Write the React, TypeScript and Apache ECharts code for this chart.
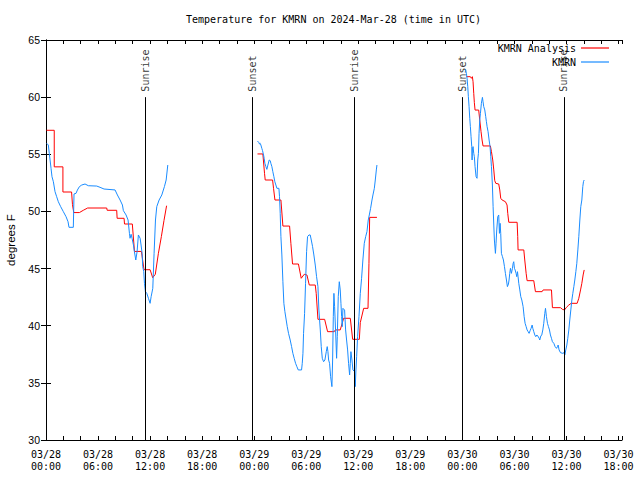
import { useEffect, useRef } from 'react';
import * as echarts from 'echarts';

const MONO = '"DejaVu Sans Mono", "Liberation Mono", monospace';
const SANS = '"Liberation Sans", Arial, sans-serif';

// hours since 2024-03-28 00:00 UTC, temperature (°F)
const analysisDay1: [number, number][] = [
  [0.05, 57.1], [0.95, 57.1], [0.95, 53.9], [1.95, 53.9], [1.95, 51.7], [2.95, 51.7], [3.05, 50.6], [3.2, 49.9],
  [3.85, 49.9], [4.3, 50.1], [4.8, 50.3], [7.0, 50.3], [7.05, 50.1], [8.15, 50.1], [8.2, 49.4], [9.0, 49.4],
  [9.05, 48.9], [9.95, 48.9], [10.2, 46.5], [11.0, 46.5], [11.3, 44.9], [12.0, 44.9], [12.3, 44.2], [12.6, 44.5],
  [12.95, 46.3], [13.3, 47.8], [13.6, 49.2], [13.9, 50.5],
];
const analysisDay2: [number, number][] = [
  [24.38, 55.03], [25.0, 55.03], [25.19, 53.33], [25.27, 52.75], [26.12, 52.75], [26.23, 52.02], [26.39, 51.0],
  [27.08, 51.0], [27.31, 48.72], [28.08, 48.72], [28.23, 47.21], [28.42, 45.4], [29.1, 45.4], [29.42, 44.15],
  [29.77, 44.5], [30.08, 44.44], [30.35, 43.56], [31.04, 43.56], [31.15, 42.83], [31.35, 40.56], [32.12, 40.56],
  [32.46, 39.48], [33.23, 39.48], [33.35, 39.63], [33.92, 39.63], [34.31, 40.65], [35.08, 40.65], [35.35, 38.81],
  [36.12, 38.81], [36.23, 40.27], [36.62, 41.52], [37.12, 41.52], [37.23, 45.46], [37.31, 49.48], [38.15, 49.48],
];
const analysisDay3: [number, number][] = [
  [48.46, 61.79], [48.92, 61.79], [49.04, 61.65], [49.15, 61.79], [49.23, 61.35], [49.31, 60.33], [49.38, 59.52],
  [49.46, 58.87], [49.88, 58.87], [50.0, 58.0], [50.15, 56.98], [50.27, 56.25], [50.38, 55.73], [51.23, 55.73],
  [51.35, 55.23], [51.5, 54.5], [51.62, 53.63], [51.73, 52.69], [51.85, 52.46], [52.19, 52.4], [52.31, 51.88],
  [52.42, 51.15], [52.58, 51.0], [52.96, 50.85], [53.15, 50.56], [53.23, 49.83], [53.35, 49.05], [54.31, 49.05],
  [54.38, 47.79], [54.42, 46.63], [55.08, 46.63], [55.19, 45.75], [55.35, 44.58], [55.46, 43.94], [56.23, 43.94],
  [56.42, 42.98], [57.19, 42.98], [57.31, 43.13], [58.27, 43.13], [58.38, 41.58], [59.31, 41.58], [59.54, 41.43],
  [59.77, 41.38], [60.0, 41.61], [60.27, 41.81], [60.54, 41.96], [61.23, 41.96], [61.42, 42.4], [61.62, 43.13],
  [61.77, 43.71], [61.92, 44.44], [62.04, 44.88],
];

const obsDay1: [number, number][] = [
  [0.08, 55.96], [0.27, 55.81], [0.38, 55.08], [0.58, 53.77], [0.69, 53.04], [0.85, 52.6], [1.04, 51.73],
  [1.23, 51.29], [1.42, 50.85], [1.69, 50.42], [2.0, 49.98], [2.31, 49.54], [2.54, 49.1], [2.65, 48.61],
  [3.15, 48.61], [3.23, 51.53], [3.46, 51.58], [3.62, 51.87], [3.85, 52.17], [4.12, 52.31], [4.5, 52.4],
  [4.88, 52.25], [5.85, 52.22], [6.23, 52.11], [6.69, 51.96], [7.96, 51.88], [8.23, 51.44], [8.54, 51.0],
  [8.81, 50.56], [8.92, 50.07], [9.23, 49.69], [9.46, 49.25], [9.62, 48.08], [9.69, 47.65], [9.81, 48.0],
  [9.92, 47.65], [10.08, 47.06], [10.19, 46.48], [10.35, 45.75], [10.5, 46.48], [10.65, 47.94], [10.85, 47.65],
  [10.96, 47.06], [11.08, 46.33], [11.15, 45.17], [11.27, 44.73], [11.35, 43.71], [11.46, 42.98], [11.62, 42.83],
  [11.81, 42.4], [12.0, 41.96], [12.12, 42.54], [12.31, 43.27], [12.46, 46.33], [12.62, 49.25], [12.77, 50.42],
  [13.04, 51.0], [13.35, 51.44], [13.65, 52.17], [13.85, 52.75], [14.04, 54.06],
];
const obsDay2: [number, number][] = [
  [24.38, 56.16], [24.54, 56.02], [24.61, 55.9], [24.69, 55.96], [24.77, 55.81], [24.88, 55.52], [24.96, 55.32],
  [25.08, 54.94], [25.15, 54.65], [25.23, 54.21], [25.35, 53.92], [25.46, 53.68], [25.58, 54.06], [25.73, 54.5],
  [25.85, 54.44], [25.92, 54.21], [26.04, 53.92], [26.15, 53.48], [26.27, 53.04], [26.38, 52.6], [26.5, 52.31],
  [26.62, 52.02], [26.85, 52.02], [26.92, 51.29], [27.0, 49.83], [27.08, 47.79], [27.19, 46.19], [27.31, 43.85],
  [27.42, 41.96], [27.54, 41.23], [27.69, 40.5], [27.81, 39.92], [27.96, 39.33], [28.15, 38.75], [28.31, 38.17],
  [28.46, 37.58], [28.61, 37.15], [28.77, 36.71], [28.92, 36.42], [29.08, 36.13], [29.46, 36.13], [29.54, 36.71],
  [29.62, 37.58], [29.69, 39.33], [29.81, 41.08], [29.92, 43.71], [30.04, 46.48], [30.15, 47.79], [30.31, 47.94],
  [30.46, 47.94], [30.58, 47.5], [30.73, 46.92], [30.88, 46.19], [31.04, 45.31], [31.19, 44.29], [31.35, 43.42],
  [31.46, 41.37], [31.62, 39.63], [31.73, 38.17], [31.85, 37.15], [32.0, 36.85], [32.15, 37.0], [32.31, 37.73],
  [32.42, 38.17], [32.5, 37.73], [32.58, 37.0], [32.69, 36.71], [32.81, 35.54], [32.96, 34.67], [33.04, 37.0],
  [33.12, 40.79], [33.19, 42.83], [33.27, 41.67], [33.38, 39.63], [33.5, 37.15], [33.58, 39.04], [33.69, 42.54],
  [33.81, 43.85], [33.92, 43.13], [34.0, 41.96], [34.08, 40.79], [34.15, 39.92], [34.23, 41.52], [34.42, 41.37],
  [34.54, 39.63], [34.65, 38.75], [34.77, 37.88], [34.88, 36.71], [35.0, 35.69], [35.08, 36.71], [35.15, 37.73],
  [35.27, 37.0], [35.38, 36.13], [35.58, 35.98], [35.65, 34.67], [35.73, 36.13], [35.81, 37.29], [35.92, 39.04],
  [36.08, 40.79], [36.23, 42.83], [36.38, 44.15], [36.53, 45.75], [36.69, 47.21], [36.85, 47.79], [37.0, 48.23],
  [37.15, 49.25], [37.27, 49.69], [37.42, 50.27], [37.58, 51.0], [37.69, 51.44], [37.85, 52.02], [37.96, 52.75],
  [38.08, 53.63], [38.15, 54.06],
];
const obsDay3: [number, number][] = [
  [48.35, 62.43], [48.46, 62.08], [48.54, 61.65], [48.62, 60.92], [48.69, 60.04], [48.77, 59.17], [48.85, 58.15],
  [48.92, 57.42], [49.0, 56.54], [49.08, 55.67], [49.12, 54.5], [49.15, 55.38], [49.23, 55.67], [49.31, 55.08],
  [49.38, 54.79], [49.46, 53.92], [49.58, 53.04], [49.69, 52.9], [49.77, 54.5], [49.85, 55.08], [49.92, 56.83],
  [50.0, 58.0], [50.08, 58.58], [50.19, 59.46], [50.31, 59.98], [50.38, 59.6], [50.46, 59.17], [50.58, 58.88],
  [50.69, 58.29], [50.77, 57.85], [50.85, 57.42], [50.96, 56.98], [51.08, 56.25], [51.19, 55.67], [51.27, 54.79],
  [51.35, 53.92], [51.46, 52.31], [51.54, 50.42], [51.62, 48.81], [51.69, 47.5], [51.81, 46.33], [51.88, 47.21],
  [51.96, 48.38], [52.08, 49.54], [52.19, 49.69], [52.27, 48.08], [52.35, 48.96], [52.42, 48.08], [52.5, 46.33],
  [52.62, 46.04], [52.73, 45.75], [52.85, 45.17], [52.96, 44.58], [53.08, 44.0], [53.19, 43.42], [53.31, 43.65],
  [53.38, 44.0], [53.46, 44.58], [53.54, 45.02], [53.65, 44.58], [53.77, 45.02], [53.85, 45.46], [53.92, 45.6],
  [54.0, 45.02], [54.08, 44.88], [54.19, 44.58], [54.27, 44.29], [54.35, 44.73], [54.42, 44.29], [54.5, 43.71],
  [54.62, 43.13], [54.73, 42.54], [54.85, 42.25], [55.0, 41.67], [55.12, 40.79], [55.23, 40.21], [55.35, 39.92],
  [55.46, 39.63], [55.58, 39.48], [55.69, 39.33], [55.81, 39.57], [55.92, 39.77], [56.04, 40.06], [56.12, 39.77],
  [56.23, 39.48], [56.35, 39.19], [56.46, 39.04], [56.58, 39.19], [56.69, 39.1], [56.85, 38.9], [56.92, 38.75],
  [57.04, 39.1], [57.15, 39.19], [57.27, 39.63], [57.38, 40.21], [57.5, 41.08], [57.58, 41.52], [57.69, 40.79],
  [57.81, 40.21], [57.92, 39.92], [58.04, 39.63], [58.15, 39.19], [58.27, 38.9], [58.38, 38.6], [58.54, 38.46],
  [58.69, 38.17], [58.85, 38.02], [58.96, 38.17], [59.04, 38.31], [59.15, 37.88], [59.31, 37.64], [59.58, 37.58],
  [59.69, 37.64], [59.81, 37.44], [59.92, 37.88], [60.04, 38.31], [60.15, 38.9], [60.27, 39.63], [60.38, 40.5],
  [60.5, 41.38], [60.62, 42.25], [60.73, 42.83], [60.85, 43.42], [60.96, 44.0], [61.08, 44.73], [61.19, 45.46],
  [61.31, 46.63], [61.42, 47.79], [61.54, 49.25], [61.65, 50.42], [61.77, 51.0], [61.88, 52.17], [61.96, 52.6],
  [62.04, 52.75],
];

const sunTimes = [11.46, 23.8, 35.57, 47.96, 59.69];
const sunNames = ['Sunrise', 'Sunset', 'Sunrise', 'Sunset', 'Sunrise'];
const xTickLabels = [
  '03/28\n00:00', '03/28\n06:00', '03/28\n12:00', '03/28\n18:00',
  '03/29\n00:00', '03/29\n06:00', '03/29\n12:00', '03/29\n18:00',
  '03/30\n00:00', '03/30\n06:00', '03/30\n12:00', '03/30\n18:00',
];

const ANALYSIS = 'KMRN Analysis';
const OBS = 'KMRN';
const RED = '#ff0000';
const BLUE = '#1a8cff';

export default function App() {
  const ref = useRef<HTMLDivElement>(null);
  useEffect(() => {
    const chart = echarts.init(ref.current!, null, { renderer: 'svg' });
    const xBase = {
      type: 'value' as const,
      min: 0,
      max: 66.4,
      interval: 2,
      axisLine: { show: true, lineStyle: { color: '#000', width: 1 } },
      axisTick: { show: true, inside: true, length: 4, lineStyle: { color: '#000' } },
      splitLine: { show: false },
    };
    const yBase = {
      type: 'value' as const,
      min: 30,
      max: 65,
      interval: 5,
      axisLine: { show: true, lineStyle: { color: '#000', width: 1 } },
      axisTick: { show: true, inside: true, length: 5, lineStyle: { color: '#000' } },
      splitLine: { show: false },
    };
    const lineSeries = (name: string, color: string, data: [number, number][]) => ({
      type: 'line',
      name,
      data,
      showSymbol: false,
      symbol: 'none',
      silent: true,
      lineStyle: { color, width: 1 },
      itemStyle: { color },
      emphasis: { disabled: true },
    });
    chart.setOption({
      animation: false,
      backgroundColor: '#ffffff',
      title: {
        text: 'Temperature for KMRN on 2024-Mar-28 (time in UTC)',
        left: 181,
        top: 9,
        textStyle: { fontFamily: MONO, fontSize: 10, fontWeight: 'normal', color: '#000' },
      },
      legend: {
        data: [ANALYSIS, OBS],
        orient: 'vertical',
        right: 26,
        top: 38,
        align: 'right',
        icon: 'rect',
        itemWidth: 28,
        itemHeight: 1.2,
        itemGap: 4,
        textStyle: { fontFamily: MONO, fontSize: 10, color: '#000' },
        selectedMode: false,
      },
      grid: { left: 46, right: 18, top: 40, bottom: 40, containLabel: false, outerBoundsMode: 'none' },
      xAxis: [
        {
          ...xBase,
          position: 'bottom',
          axisLabel: {
            show: true,
            margin: 8,
            fontFamily: MONO,
            fontSize: 10,
            lineHeight: 12,
            color: '#000',
            formatter: (v: number) => {
              const k = v / 6;
              if (Math.abs(k - Math.round(k)) > 1e-6) return '';
              return xTickLabels[Math.round(k)] ?? '';
            },
          },
        },
        { ...xBase, position: 'top', axisLabel: { show: false } },
      ],
      yAxis: [
        {
          ...yBase,
          position: 'left',
          name: 'degrees F',
          nameLocation: 'middle',
          nameRotate: 90,
          nameGap: 29,
          nameTextStyle: { fontFamily: SANS, fontSize: 11.5, color: '#000' },
          axisLabel: { show: true, margin: 6, fontFamily: SANS, fontSize: 10.5, color: '#000' },
        },
        { ...yBase, position: 'right', axisLabel: { show: false } },
      ],
      series: [
        lineSeries(ANALYSIS, RED, analysisDay1),
        lineSeries(ANALYSIS, RED, analysisDay2),
        lineSeries(ANALYSIS, RED, analysisDay3),
        lineSeries(OBS, BLUE, obsDay1),
        lineSeries(OBS, BLUE, obsDay2),
        lineSeries(OBS, BLUE, obsDay3),
        {
          type: 'scatter',
          name: 'sun',
          silent: true,
          symbolSize: 1,
          itemStyle: { color: 'rgba(0,0,0,0)' },
          data: sunTimes.map((t, i) => ({ value: [t, 60], name: sunNames[i] })),
          label: {
            show: true,
            formatter: '{b}',
            position: 'top',
            distance: 5,
            rotate: 90,
            align: 'left',
            verticalAlign: 'middle',
            fontFamily: MONO,
            fontSize: 10,
            color: '#000',
          },
          markLine: {
            silent: true,
            symbol: ['none', 'none'],
            label: { show: false },
            lineStyle: { color: '#000', width: 1, type: 'solid' },
            emphasis: { disabled: true },
            data: sunTimes.map((t) => [{ coord: [t, 30] }, { coord: [t, 60] }]),
          },
        },
      ],
    });
    return () => chart.dispose();
  }, []);
  return (
    <div
      ref={ref}
      style={{ position: 'fixed', left: 0, top: 0, width: 640, height: 480, background: '#fff' }}
    />
  );
}
